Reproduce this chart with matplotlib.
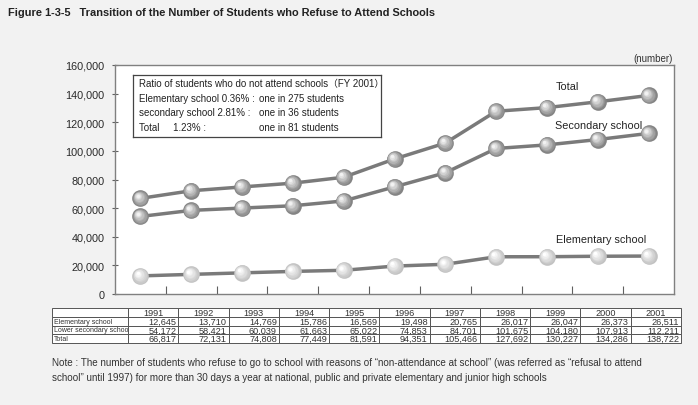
import matplotlib
matplotlib.use("Agg")
import matplotlib.pyplot as plt
from matplotlib.ticker import FuncFormatter, FixedLocator
import matplotlib.transforms as mtransforms

years = ["1991", "1992", "1993", "1994", "1995", "1996", "1997", "1998", "1999", "2000", "2001"]
elementary = [12645, 13710, 14769, 15786, 16569, 19498, 20765, 26017, 26047, 26373, 26511]
secondary = [54172, 58421, 60039, 61663, 65022, 74853, 84701, 101675, 104180, 107913, 112211]
total = [66817, 72131, 74808, 77449, 81591, 94351, 105466, 127692, 130227, 134286, 138722]
row_labels = ["Elementary school", "Lower secondary school", "Total"]
series_labels = ["Total", "Secondary school", "Elementary school"]

plt.rcParams["font.family"] = ["Liberation Sans", "Noto Sans CJK JP", "DejaVu Sans"]

W, H = 698, 406
fig = plt.figure(figsize=(W / 100, H / 100), dpi=100)
fig.patch.set_facecolor("#f2f2f2")

def fx(px):
    return px / W

def fy(py):
    return 1 - py / H

ax = fig.add_axes([fx(115), fy(295), fx(674) - fx(115), fy(66) - fy(295)])
ax.set_facecolor("white")
x = list(range(len(years)))
ax.set_xlim(-0.5, len(years) - 0.5)
ax.set_ylim(0, 160000)
for s in ax.spines.values():
    s.set_color("#808080")
    s.set_linewidth(1.0)

ax.yaxis.set_major_locator(FixedLocator(range(0, 160001, 20000)))
ax.yaxis.set_major_formatter(FuncFormatter(lambda v, p: f"{int(v):,}"))
ax.tick_params(axis="y", direction="inout", length=5, width=0.8, color="#606060",
               labelsize=7.8, labelcolor="#2a2a2a", pad=5)
ax.set_xticks([])
ax.set_xticks([i + 0.5 for i in range(len(years) - 1)], minor=True)
ax.tick_params(axis="x", which="minor", direction="in", length=6, width=0.8, color="#606060")

def mix(c1, c2, t):
    a = [int(c1[i:i + 2], 16) for i in (1, 3, 5)]
    b = [int(c2[i:i + 2], 16) for i in (1, 3, 5)]
    return "#" + "".join(f"{int(a[j] + (b[j] - a[j]) * t):02x}" for j in range(3))

def sphere(xs, ys, base, light, size=12):
    layers = 8
    for k in range(layers):
        t = k / (layers - 1)
        col = mix(base, light, t)
        ms = size * (1 - 0.8 * t)
        off = mtransforms.offset_copy(ax.transData, fig=fig, x=-2.0 * t, y=2.0 * t, units="points")
        ax.plot(xs, ys, "o", ms=ms, mfc=col, mec="none", transform=off, zorder=3 + k)

for data, base, light in [(total, "#848484", "#f2f2f2"),
                          (secondary, "#848484", "#f2f2f2"),
                          (elementary, "#c2c2c2", "#ffffff")]:
    ax.plot(x, data, color="#7a7a7a", lw=2.5, zorder=2)
    sphere(x, data, base, light)

ax.text(8.18, 145300, series_labels[0], fontsize=7.8, color="#222222", va="center")
ax.text(8.16, 118100, series_labels[1], fontsize=7.8, color="#222222", va="center")
ax.text(8.18, 38400, series_labels[2], fontsize=7.8, color="#222222", va="center")

# annotation box
box_ax = fig.add_axes([fx(133), fy(138), fx(381) - fx(133), fy(76) - fy(138)])
box_ax.set_xlim(0, 1)
box_ax.set_ylim(0, 1)
box_ax.set_xticks([])
box_ax.set_yticks([])
box_ax.set_facecolor("white")
for s in box_ax.spines.values():
    s.set_color("#444444")
    s.set_linewidth(0.9)
c1 = 6 / 248
c2 = 126 / 248
lines = [("Ratio of students who do not attend schools（FY 2001）", None),
         ("Elementary school 0.36% :", "one in 275 students"),
         ("secondary school 2.81% :", "one in 36 students"),
         ("Total     1.23% :", "one in 81 students")]
for i, (a, b) in enumerate(lines):
    yy = 1 - (8 + 14.7 * i) / 62
    box_ax.text(c1, yy, a, fontsize=7.0, va="center", ha="left", color="#222222")
    if b:
        box_ax.text(c2, yy, b, fontsize=7.0, va="center", ha="left", color="#222222")

fig.text(fx(673), fy(59), "(number)", fontsize=7, ha="right", va="center", color="#333333")
fig.text(fx(8), fy(13), "Figure 1-3-5   Transition of the Number of Students who Refuse to Attend Schools",
         fontsize=7.9, fontweight="bold", ha="left", va="center", color="#222222")

# table
tab_ax = fig.add_axes([fx(52), fy(344), fx(681) - fx(52), fy(309) - fy(344)])
tab_ax.axis("off")
cell_text = [[""] + years]
for lab, vals in zip(row_labels, [elementary, secondary, total]):
    cell_text.append([lab] + [f"{v:,}" for v in vals])
first_w = 76 / 629
other_w = (1 - first_w) / len(years)
tbl = tab_ax.table(cellText=cell_text, bbox=[0, 0, 1, 1],
                   colWidths=[first_w] + [other_w] * len(years))
tbl.auto_set_font_size(False)
for (r, c), cell in tbl.get_celld().items():
    cell.set_edgecolor("#555555")
    cell.set_linewidth(0.7)
    cell.set_facecolor("white")
    txt = cell.get_text()
    txt.set_fontsize(6.6)
    txt.set_color("#333333")
    if c == 0:
        txt.set_ha("left")
        txt.set_fontsize(5.0)
        cell.PAD = 0.02
    elif r == 0:
        txt.set_ha("center")
    else:
        txt.set_ha("right")
        cell.PAD = 0.04

fig.text(fx(52), fy(363), "Note : The number of students who refuse to go to school with reasons of \u201cnon-attendance at school\u201d (was referred as \u201crefusal to attend",
         fontsize=7.1, ha="left", va="center", color="#333333")
fig.text(fx(52), fy(378), "school\u201d until 1997) for more than 30 days a year at national, public and private elementary and junior high schools",
         fontsize=7.1, ha="left", va="center", color="#333333")

fig.savefig("out.png", dpi=100, facecolor=fig.get_facecolor())
